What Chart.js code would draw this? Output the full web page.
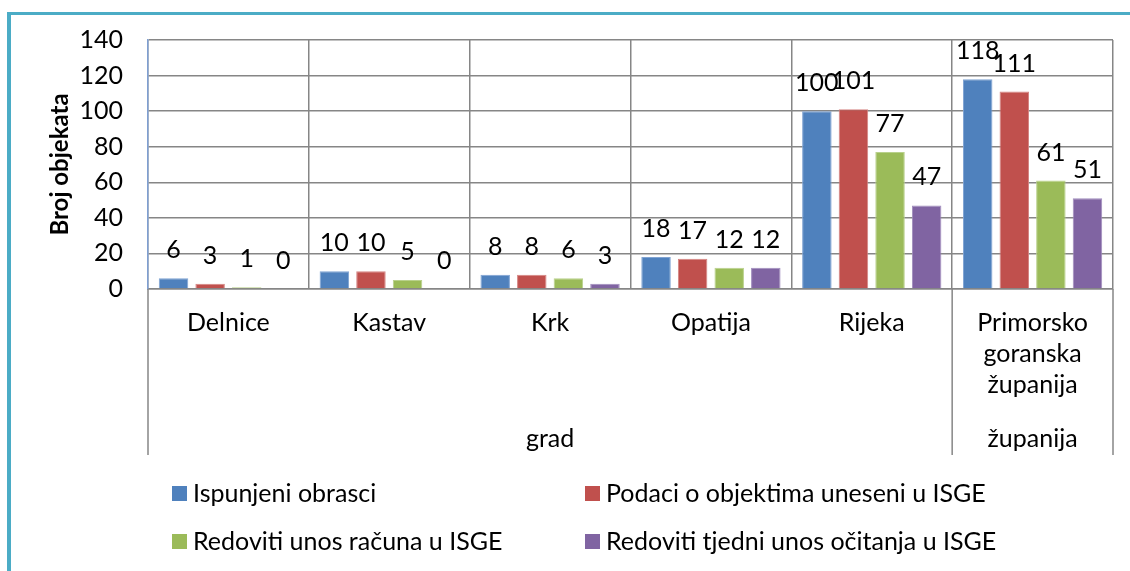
<!DOCTYPE html>
<html>
<head>
<meta charset="utf-8">
<script src="https://cdn.jsdelivr.net/npm/chart.js@4.4.1/dist/chart.umd.min.js"></script>
<style>
    html, body { margin: 0; padding: 0; background: #ffffff; }
    #contenedor { width: 1130px; height: 571px; position: relative; }
</style>
</head>
<body>
<div id="contenedor"><canvas id="graficoObjekti"></canvas></div>
<script>
const etiquetasCiudades = ['Delnice', 'Kastav', 'Krk', 'Opatija', 'Rijeka', ['Primorsko', 'goranska', 'županija']];
const grupos = [
    { nombre: 'grad', desde: 0, hasta: 4 },
    { nombre: 'županija', desde: 5, hasta: 5 }
];
const ispunjeniObrasci = [6, 10, 8, 18, 100, 118];
const podaciUneseni = [3, 10, 8, 17, 101, 111];
const unosRacuna = [1, 5, 6, 12, 77, 61];
const tjedniUnos = [0, 0, 3, 12, 47, 51];
const nombresSeries = [
    'Ispunjeni obrasci',
    'Podaci o objektima uneseni u ISGE',
    'Redoviti unos računa u ISGE',
    'Redoviti tjedni unos očitanja u ISGE'
];
const colores = ['#4F81BD', '#C0504D', '#9BBB59', '#8064A2'];
const bordes = ['#7fa3d3', '#d58583', '#b9d18c', '#a08cbd'];
const tituloEjeY = 'Broj objekata';
const minimoY = 0;
const maximoY = 140;
const pasoY = 20;

const fuente = 'Lato';
const tamanoTexto = 25;
const colorRejilla = '#868686';

const adornos = {
    id: 'adornos',
    beforeDraw(chart) {
        const ctx = chart.ctx;
        ctx.save();
        ctx.fillStyle = '#ffffff';
        ctx.fillRect(0, 0, chart.width, chart.height);
        // marco turquesa (recortado a la derecha y abajo)
        ctx.fillStyle = '#4BACC6';
        ctx.fillRect(7, 12, 4, chart.height - 12);
        ctx.fillRect(7, 12, chart.width - 7, 3);
        ctx.restore();
    },
    afterDatasetsDraw(chart) {
        const ctx = chart.ctx;
        ctx.save();
        ctx.fillStyle = '#000000';
        ctx.font = tamanoTexto + 'px ' + fuente;
        ctx.textAlign = 'center';
        ctx.textBaseline = 'alphabetic';
        chart.data.datasets.forEach((serie, i) => {
            chart.getDatasetMeta(i).data.forEach((barra, j) => {
                ctx.fillText(String(serie.data[j]), barra.x, barra.y - 20);
            });
        });
        ctx.restore();
    },
    afterDraw(chart) {
        const ctx = chart.ctx;
        const area = chart.chartArea;
        const ejeX = chart.scales.x;
        const mitad = (ejeX.getPixelForTick(1) - ejeX.getPixelForTick(0)) / 2;
        ctx.save();
        // separadores del segundo nivel del eje de categorias
        ctx.strokeStyle = colorRejilla;
        ctx.lineWidth = 1.5;
        let cortes = [ejeX.getPixelForTick(0) - mitad];
        grupos.forEach(g => cortes.push(ejeX.getPixelForTick(g.hasta) + mitad));
        cortes.forEach(x => {
            ctx.beginPath();
            ctx.moveTo(x, area.bottom);
            ctx.lineTo(x, 455);
            ctx.stroke();
        });
        ctx.fillStyle = '#000000';
        ctx.font = tamanoTexto + 'px ' + fuente;
        ctx.textAlign = 'center';
        ctx.textBaseline = 'alphabetic';
        grupos.forEach(g => {
            let centro = (ejeX.getPixelForTick(g.desde) + ejeX.getPixelForTick(g.hasta)) / 2;
            ctx.fillText(g.nombre, centro, 447);
        });
        // leyenda en dos columnas
        const columnas = [172, 585];
        const filas = [486, 534];
        ctx.textAlign = 'left';
        chart.data.datasets.forEach((serie, i) => {
            let x = columnas[i % 2];
            let y = filas[Math.floor(i / 2)];
            ctx.fillStyle = serie.backgroundColor;
            ctx.fillRect(x, y, 15, 15);
            ctx.fillStyle = '#000000';
            ctx.fillText(serie.label, x + 21, y + 16);
        });
        ctx.restore();
    }
};

function crearSerie(indice, datos) {
    return {
        label: nombresSeries[indice],
        data: datos,
        backgroundColor: colores[indice],
        borderColor: bordes[indice],
        borderWidth: 1,
        categoryPercentage: 0.91,
        barPercentage: 0.806
    };
}

Chart.defaults.font.family = fuente;
Chart.defaults.color = '#000000';

new Chart(document.getElementById('graficoObjekti').getContext('2d'), {
    type: 'bar',
    data: {
        labels: etiquetasCiudades,
        datasets: [
            crearSerie(0, ispunjeniObrasci),
            crearSerie(1, podaciUneseni),
            crearSerie(2, unosRacuna),
            crearSerie(3, tjedniUnos)
        ]
    },
    options: {
        responsive: true,
        maintainAspectRatio: false,
        animation: false,
        layout: { padding: { top: 40, right: 17, left: 0, bottom: 0 } },
        plugins: {
            legend: { display: false },
            tooltip: { enabled: false }
        },
        scales: {
            x: {
                grid: { color: colorRejilla, lineWidth: 1.5, drawTicks: false, offset: true },
                border: { color: colorRejilla, width: 1.5 },
                ticks: {
                    font: { size: tamanoTexto, lineHeight: 1.25 },
                    padding: 18,
                    maxRotation: 0,
                    autoSkip: false
                },
                afterFit(escala) { escala.height = 282; }
            },
            y: {
                min: minimoY,
                max: maximoY,
                grid: { color: colorRejilla, lineWidth: 1.5, drawTicks: false },
                border: { color: '#7f9fd2', width: 1.5 },
                ticks: {
                    stepSize: pasoY,
                    font: { size: tamanoTexto },
                    padding: 25
                },
                title: {
                    display: true,
                    text: tituloEjeY,
                    font: { size: 24, weight: 'bold' },
                    padding: { top: 46, bottom: 0 }
                },
                afterFit(escala) { escala.width = 148; }
            }
        }
    },
    plugins: [adornos]
});
</script>
</body>
</html>
